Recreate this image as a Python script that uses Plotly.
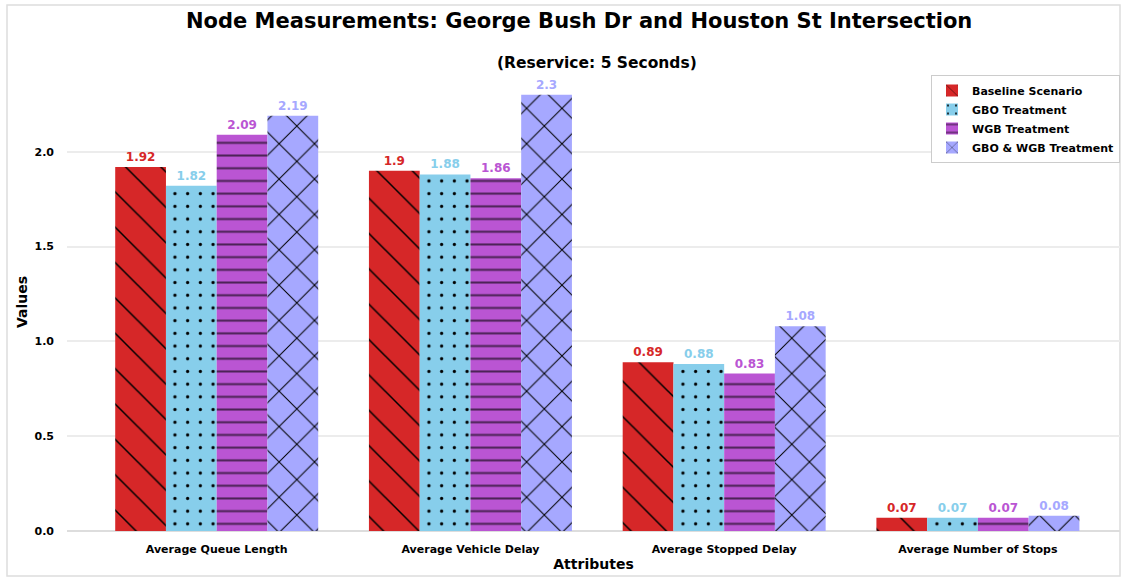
import plotly.graph_objects as go

# Attributes measured at the intersection and the values for each scenario
categories = ["Average Queue Length", "Average Vehicle Delay",
              "Average Stopped Delay", "Average Number of Stops"]
baseline = [1.92, 1.90, 0.89, 0.07]
gbo = [1.82, 1.88, 0.88, 0.07]
wgb = [2.09, 1.86, 0.83, 0.07]
gbo_wgb = [2.19, 2.30, 1.08, 0.08]

series = [
    ("Baseline Scenario", baseline, "#d62728", "\\", 25, 0.06, 1.0),
    ("GBO Treatment", gbo, "#87ceeb", ".", 12.7, 0.05, 1.0),
    ("WGB Treatment", wgb, "#ba55d3", "-", 12.7, 0.16, 0.6),
    ("GBO & WGB Treatment", gbo_wgb, "#a6a8ff", "x", 25, 0.08, 1.0),
]

FONT = "DejaVu Sans"

fig = go.Figure()
for name, vals, color, shape, size, solidity, fgop in series:
    fig.add_trace(go.Bar(
        name=name,
        x=categories,
        y=vals,
        text=[f"{v:g}" for v in vals],
        textposition="outside",
        textfont=dict(family=FONT, size=12, color=color, weight="bold"),
        cliponaxis=False,
        marker=dict(
            color=color,
            line=dict(width=0),
            pattern=dict(shape=shape, fgcolor="black", bgcolor=color,
                         size=size, solidity=solidity, fgopacity=fgop),
        ),
    ))

fig.update_layout(
    width=1123, height=580,
    margin=dict(l=67, r=3, t=73, b=49),
    paper_bgcolor="white", plot_bgcolor="white",
    barmode="group", bargap=0.2, bargroupgap=0,
    font=dict(family=FONT, color="black"),
    showlegend=True,
    legend=dict(
        x=1.0, y=1.0 - 2 / 458, xanchor="right", yanchor="top",
        bgcolor="white", bordercolor="#cccccc", borderwidth=1,
        font=dict(family=FONT, size=11, weight="bold"),
        tracegroupgap=0, itemwidth=30,
    ),
    xaxis=dict(
        range=[-0.59, 3.56],
        showgrid=False, showline=False, zeroline=False,
        ticks="", ticklabelstandoff=10,
        tickfont=dict(family=FONT, size=11, weight="bold"),
        title=dict(text="Attributes", standoff=4,
                   font=dict(family=FONT, size=14, weight="bold")),
    ),
    yaxis=dict(
        range=[0, 2.415],
        tickvals=[0, 0.5, 1.0, 1.5, 2.0],
        ticktext=["0.0", "0.5", "1.0", "1.5", "2.0"],
        showgrid=True, gridcolor="#ececec", gridwidth=2,
        zeroline=True, zerolinecolor="#dddddd", zerolinewidth=2,
        showline=False, ticks="", ticklabelstandoff=12,
        tickfont=dict(family=FONT, size=11, weight="bold"),
        title=dict(text="Values", standoff=3,
                   font=dict(family=FONT, size=14, weight="bold")),
    ),
    annotations=[
        dict(text="Node Measurements: George Bush Dr and Houston St Intersection",
             xref="paper", yref="paper", x=0.5, y=1,
             yshift=66, xshift=-15, showarrow=False,
             font=dict(family=FONT, size=21, weight="bold")),
        dict(text="(Reservice: 5 Seconds)",
             xref="paper", yref="paper", x=0.5, y=1,
             yshift=21, xshift=3, showarrow=False,
             font=dict(family=FONT, size=15.5, weight="bold")),
    ],
    shapes=[
        dict(type="rect", xref="paper", yref="paper",
             x0=-60/1053, x1=1.0 + 0/1053, y0=-45/458, y1=1 + 68/458,
             line=dict(color="#dddddd", width=1.5), layer="below"),
    ],
)

fig.write_html("out.html")
